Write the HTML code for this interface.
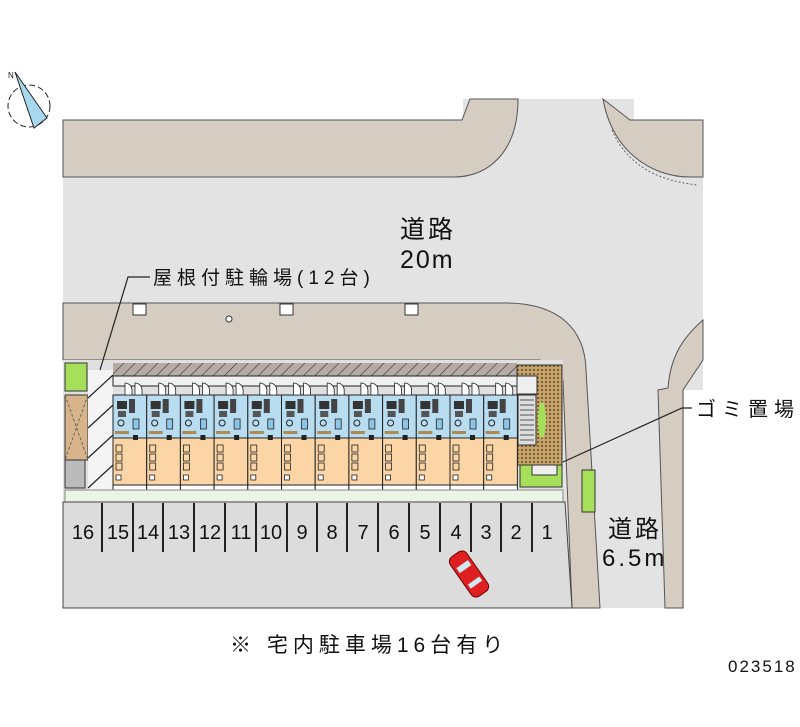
<!DOCTYPE html>
<html><head><meta charset="utf-8"><style>
html,body{margin:0;padding:0;background:#fff;}
svg{display:block}
text{font-family:"Liberation Sans","Noto Sans CJK JP",sans-serif;fill:#111}
</style></head><body>
<svg width="800" height="727" viewBox="0 0 800 727" xmlns="http://www.w3.org/2000/svg">
<defs>
<pattern id="hatch" width="8" height="8" patternUnits="userSpaceOnUse" patternTransform="rotate(45)">
<rect width="8" height="8" fill="#b5aaa5"/><line x1="0" y1="0" x2="0" y2="8" stroke="#333" stroke-width="1.2"/></pattern>
<pattern id="dots" width="4" height="4" patternUnits="userSpaceOnUse">
<rect width="4" height="4" fill="#c9a46a"/><circle cx="2" cy="2" r="1" fill="#5a4a2a"/></pattern>
<g id="unit">
<rect x="0" y="20" width="33.7" height="43" fill="#b8dcf0" stroke="#222" stroke-width="1"/>
<rect x="4" y="26" width="10" height="8" fill="#333"/>
<rect x="5" y="36" width="8" height="6" fill="#555"/>
<rect x="16" y="24" width="6" height="14" fill="#444"/>
<circle cx="8" cy="48" r="3" fill="none" stroke="#222"/>
<rect x="2" y="56" width="14" height="3" fill="#b08a50"/>
<rect x="20" y="44" width="6" height="10" fill="#8ec5e6" stroke="#222" stroke-width=".8"/>
<path d="M12 8 a7 7 0 0 1 7 7 v5 h-7z M22 8 a7 7 0 0 1 7 7 v5 h-7z" fill="#fff" stroke="#222" stroke-width=".8"/>
<rect x="0" y="63" width="33.7" height="47" fill="#fbd5a5" stroke="#222" stroke-width="1"/>
<rect x="20" y="60" width="5" height="5" fill="#222"/>
<rect x="3" y="70" width="6" height="7" fill="#fbd5a5" stroke="#222" stroke-width=".8"/>
<rect x="3" y="79" width="6" height="7" fill="#fbd5a5" stroke="#222" stroke-width=".8"/>
<rect x="3" y="88" width="6" height="7" fill="#fbd5a5" stroke="#222" stroke-width=".8"/>
<rect x="3" y="100" width="5" height="5" fill="#fff" stroke="#222" stroke-width=".8"/>
<rect x="0" y="110" width="33.7" height="7" fill="#fff" stroke="#222" stroke-width="1"/>
</g>
</defs>
<!-- road base -->
<rect x="63" y="99" width="640" height="509" fill="#e3e3e3"/>
<rect x="63" y="99" width="400" height="21" fill="#fff"/>
<rect x="634" y="99" width="80" height="21" fill="#fff"/>
<rect x="684" y="390" width="116" height="230" fill="#fff"/>
<!-- top sidewalks -->
<path d="M63 120 H462 L470 99 H518 C518 150 490 177 454 177 H63 Z" fill="#d5ccc2" stroke="#555" stroke-width="1"/>
<path d="M603 99 L630 120 H703 V177 H690 C650 177 612 150 603 99 Z" fill="#d5ccc2" stroke="#555" stroke-width="1"/>
<path d="M612 130 C625 160 650 180 698 185" fill="none" stroke="#666" stroke-dasharray="2 2"/>
<!-- bottom sidewalk -->
<path d="M63 303 H505 C560 303 585 330 586 370 L600 608 H572 L563 380 L540 360 H63 Z" fill="#d5ccc2" stroke="#555" stroke-width="1"/>
<rect x="133" y="304" width="13" height="11" fill="#fff" stroke="#333"/>
<rect x="280" y="304" width="13" height="11" fill="#fff" stroke="#333"/>
<rect x="405" y="304" width="13" height="11" fill="#fff" stroke="#333"/>
<circle cx="229" cy="319" r="3" fill="#fff" stroke="#333"/>
<!-- right taupe -->
<path d="M703 320 C680 340 670 360 668 388 L658 390 L665 608 H683 L683 390 L703 360 Z" fill="#d5ccc2" stroke="#555" stroke-width="1"/>
<rect x="582" y="470" width="13" height="42" fill="#a6df5a" stroke="#333"/>
<!-- property -->
<rect x="63" y="360" width="500" height="142" fill="#e0e0e0"/>
<rect x="65" y="363" width="22" height="28" fill="#a6df5a" stroke="#333"/>
<rect x="65" y="395" width="23" height="65" fill="#d7b48a" stroke="#333"/>
<path d="M65 395 L88 460 M88 395 L65 460" stroke="#666" stroke-dasharray="3 2"/>
<rect x="65" y="460" width="20" height="28" fill="#bbb" stroke="#333"/>
<rect x="88" y="370" width="25" height="120" fill="#f4f4f4"/>
<path d="M88 398 L113 375 M88 428 L113 405 M88 458 L113 435 M88 488 L113 465" stroke="#222" stroke-width="1.2"/>
<rect x="113" y="363" width="404" height="13" fill="url(#hatch)"/>
<rect x="113" y="376" width="404" height="10" fill="#f0f0f0" stroke="#222"/>
<rect x="517" y="365" width="45" height="100" fill="url(#dots)" stroke="#333"/>
<rect x="517" y="376" width="20" height="18" fill="#eee" stroke="#333"/>
<rect x="518" y="395" width="18" height="50" fill="#ddd" stroke="#333"/>
<path d="M520 400H534M520 405H534M520 410H534M520 415H534M520 420H534M520 425H534M520 430H534M520 435H534M520 440H534" stroke="#555"/>
<ellipse cx="542" cy="420" rx="4" ry="18" fill="#a6df5a"/>
<rect x="520" y="465" width="42" height="22" fill="#a6df5a" stroke="#333"/>
<rect x="532" y="465" width="25" height="10" fill="#eee" stroke="#333"/>
<use href="#unit" x="113" y="375"/><use href="#unit" x="146.7" y="375"/><use href="#unit" x="180.4" y="375"/><use href="#unit" x="214.1" y="375"/><use href="#unit" x="247.8" y="375"/><use href="#unit" x="281.5" y="375"/><use href="#unit" x="315.2" y="375"/><use href="#unit" x="348.9" y="375"/><use href="#unit" x="382.6" y="375"/><use href="#unit" x="416.3" y="375"/><use href="#unit" x="450" y="375"/><use href="#unit" x="483.7" y="375"/>
<rect x="65" y="490" width="498" height="12" fill="#ecf4e6" stroke="#888"/>
<!-- parking -->
<path d="M63 502 H565 L572 608 H63 Z" fill="#dcdcdc" stroke="#444"/>
<g stroke="#222" stroke-width="2">
<line x1="102" y1="503" x2="102" y2="552"/><line x1="133" y1="503" x2="133" y2="552"/><line x1="163" y1="503" x2="163" y2="552"/><line x1="194" y1="503" x2="194" y2="552"/><line x1="225" y1="503" x2="225" y2="552"/><line x1="256" y1="503" x2="256" y2="552"/><line x1="287" y1="503" x2="287" y2="552"/><line x1="317" y1="503" x2="317" y2="552"/><line x1="347" y1="503" x2="347" y2="552"/><line x1="378" y1="503" x2="378" y2="552"/><line x1="409" y1="503" x2="409" y2="552"/><line x1="440" y1="503" x2="440" y2="552"/><line x1="471" y1="503" x2="471" y2="552"/><line x1="501" y1="503" x2="501" y2="552"/><line x1="532" y1="503" x2="532" y2="552"/>
</g>
<g font-size="20" text-anchor="middle">
<text x="83" y="539">16</text><text x="118" y="539">15</text><text x="148" y="539">14</text><text x="179" y="539">13</text><text x="210" y="539">12</text><text x="241" y="539">11</text><text x="271" y="539">10</text><text x="302" y="539">9</text><text x="332" y="539">8</text><text x="363" y="539">7</text><text x="394" y="539">6</text><text x="425" y="539">5</text><text x="456" y="539">4</text><text x="486" y="539">3</text><text x="516" y="539">2</text><text x="547" y="539">1</text>
</g>
<g transform="translate(469,574) rotate(-35)">
<rect x="-10" y="-24" width="20" height="48" rx="6" fill="#e02020" stroke="#600"/>
<rect x="-7" y="-12" width="14" height="6" fill="#cfe8f5"/><rect x="-7" y="8" width="14" height="5" fill="#cfe8f5"/>
</g>
<!-- labels -->
<g stroke="#222" stroke-width="1.2" fill="none">
<path d="M150 277 H128 L100 370"/>
<path d="M692 408 H682 L563 462"/>
</g>
<text x="153" y="284" font-size="19" letter-spacing="5">屋根付駐輪場(12台)</text>
<text x="400" y="238" font-size="25" letter-spacing="3">道路</text>
<text x="400" y="268" font-size="25" letter-spacing="2">20m</text>
<text x="696" y="416" font-size="20" letter-spacing="6">ゴミ置場</text>
<text x="608" y="537" font-size="24" letter-spacing="3">道路</text>
<text x="602" y="566" font-size="24" letter-spacing="3">6.5m</text>
<text x="230" y="652" font-size="21" letter-spacing="5">※ 宅内駐車場16台有り</text>
<text x="728" y="672" font-size="17" letter-spacing="2">023518</text>
<!-- compass -->
<g stroke="#222" fill="none">
<circle cx="29" cy="106" r="21" stroke-dasharray="6 3"/>
<path d="M15 72 L47 118 L34 128 Z" fill="#a8d8f0" stroke="#222"/>
<text x="8" y="78" font-size="8" stroke="none">N</text>
</g>
</svg>
</body></html>
